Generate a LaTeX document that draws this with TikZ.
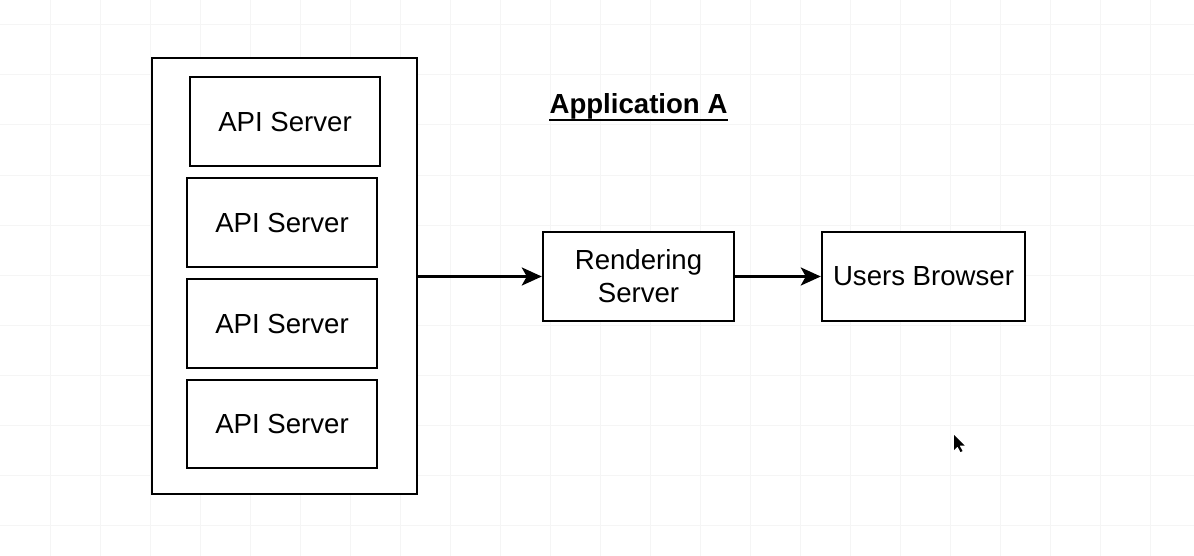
\documentclass[tikz,border=0pt]{standalone}
\usepackage{fontspec}
\setmainfont{Liberation Sans}
\usetikzlibrary{arrows.meta}
\begin{document}
\begin{tikzpicture}[x=0.5pt,y=-0.5pt,
  box/.style={draw=black, line width=1.2pt, fill=white, inner sep=0pt, align=center,
    font=\fontsize{13.8}{16.5}\selectfont},
  flow/.style={line width=1.5pt, -{Stealth[length=10pt,width=9pt,inset=2.5pt]}},
  gridline/.style={draw=black!4, line width=0.5pt}]
  \useasboundingbox (0,0) rectangle (1194,556);
  \fill[white] (0,0) rectangle (1194,556);
  % faint background grid
  \foreach \gx in {50,100,...,1150} \draw[gridline] (\gx,0) -- (\gx,556);
  \foreach \gy in {25,75,...,525} \draw[gridline] (0,\gy) -- (1194,\gy);

  % container of API servers
  \node[box, minimum width=132.5pt, minimum height=218pt] (outer) at (284.5,276) {};
  \node[box, minimum width=95pt, minimum height=44.5pt] (api1) at (285,121.5) {API Server};
  \node[box, minimum width=95pt, minimum height=44.5pt] (api2) at (282,222.5) {API Server};
  \node[box, minimum width=95pt, minimum height=44.5pt] (api3) at (282,323.5) {API Server};
  \node[box, minimum width=95pt, minimum height=44pt] (api4) at (282,424) {API Server};

  % downstream servers
  \node[box, minimum width=95.5pt, minimum height=44.5pt] (render) at (638.5,276.5) {Rendering\\Server};
  \node[box, minimum width=101.5pt, minimum height=44.5pt] (browser) at (923.5,276.5) {Users Browser};

  % heading
  \node[inner sep=0pt, anchor=base, font=\fontsize{13.8}{16}\selectfont\bfseries] (title) at (638.5,114) {Application A};
  \draw[line width=1pt] ([yshift=-3pt]title.base west) -- ([yshift=-3pt]title.base east);

  % connectors
  \draw[flow] (outer.east |- render.west) -- (render.west);
  \draw[flow] (render.east) -- (browser.west);

  % mouse pointer
  \fill[black] (954,435) -- (954,450) -- (957.5,446.5) -- (960.5,452) -- (962.5,451) -- (959.5,445.5) -- (964.5,445.5) -- cycle;
\end{tikzpicture}
\end{document}
